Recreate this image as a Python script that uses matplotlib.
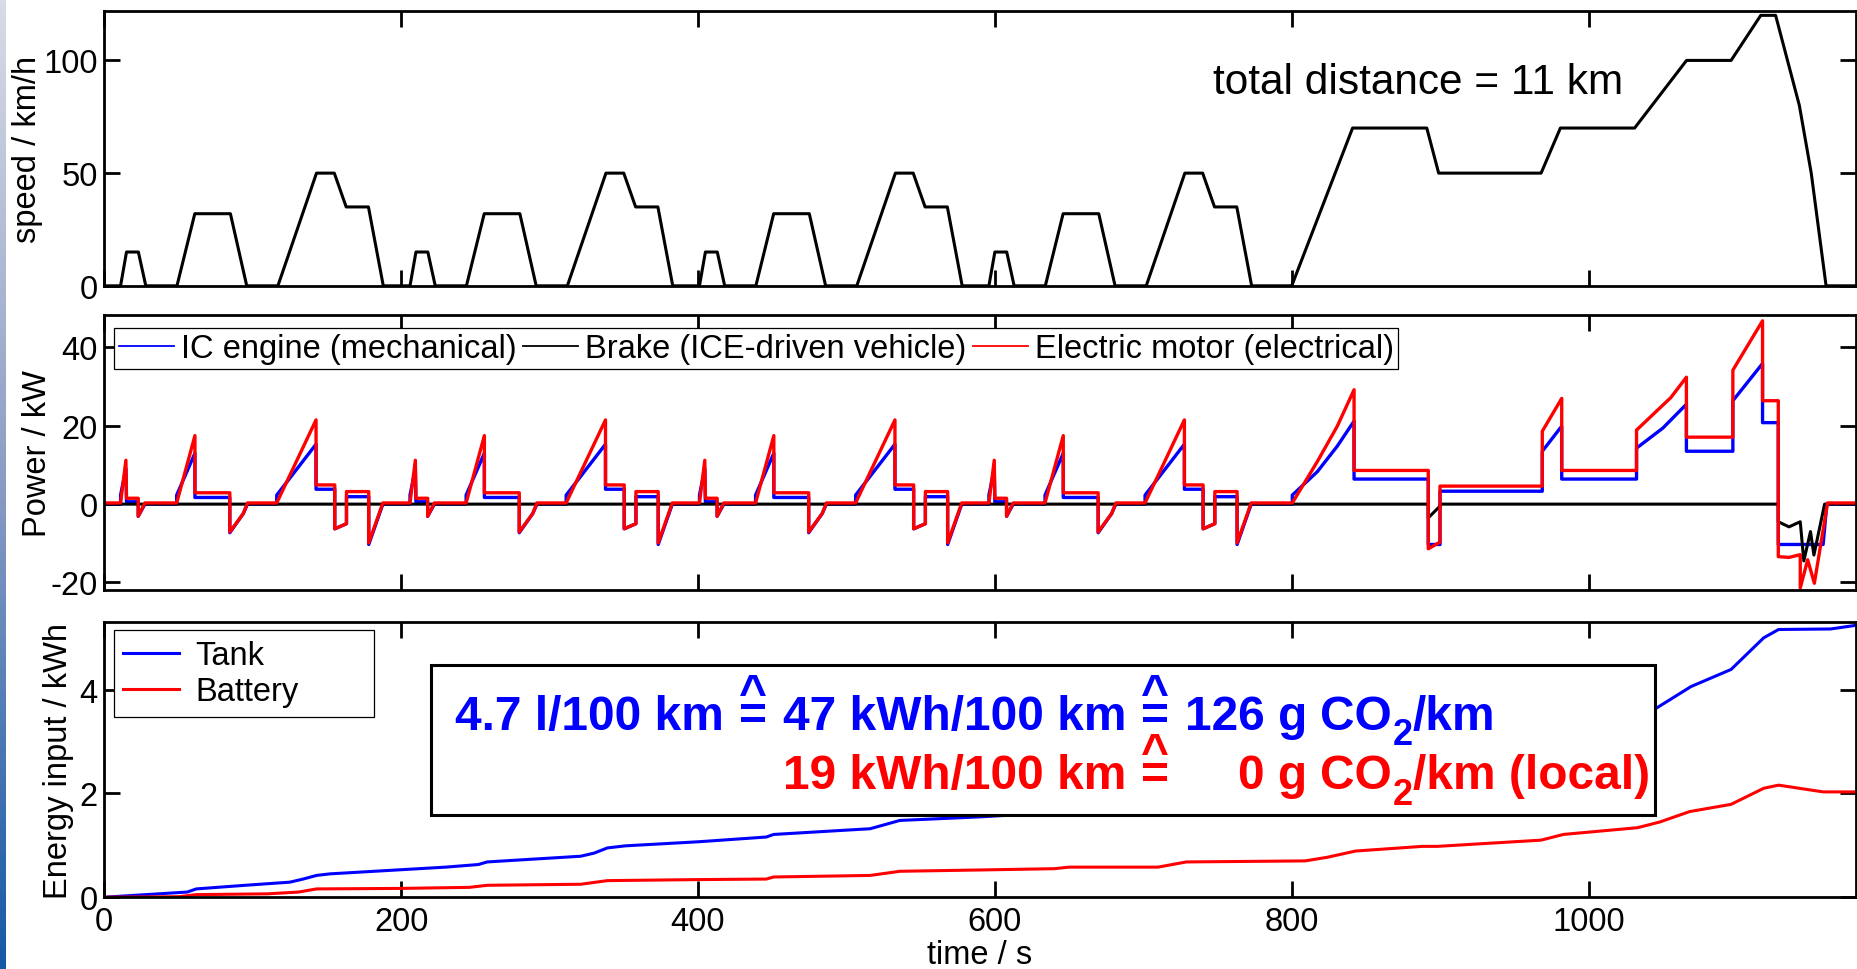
import numpy as np
import matplotlib
matplotlib.use('Agg')
import matplotlib.pyplot as plt
from matplotlib.colors import LinearSegmentedColormap
from matplotlib.lines import Line2D
from matplotlib.patches import Rectangle

plt.rcParams['font.family'] = ['Liberation Sans', 'DejaVu Sans']
plt.rcParams['font.size'] = 23.5
plt.rcParams['axes.linewidth'] = 2.0
plt.rcParams['axes.unicode_minus'] = False

BLUE = '#0000ff'
RED = '#ff0000'

# ---------------------------------------------------------------------------
# NEDC speed profile: one ECE-15 urban cycle (195 s, driven 4 times) + EUDC
ece_len = 195
ece_t = [0, 11, 15, 23, 28, 49, 61, 85, 96, 117, 143, 155, 163, 178, 188, 195]
ece_speed = [0, 0, 15, 15, 0, 0, 32, 32, 0, 0, 50, 50, 35, 35, 0, 0]

eudc_t = [780, 800, 841, 891, 899, 968, 981, 1031, 1066, 1096, 1116, 1126,
          1142, 1150, 1160, 1180]
eudc_speed = [0, 0, 70, 70, 50, 50, 70, 70, 100, 100, 120, 120, 80, 50, 0, 0]

# power (kW), per ECE cycle
ece_pt = [0, 11, 11, 14.6, 15, 22.9, 22.9, 27.4, 48.8, 48.8, 61.1, 61.1,
          84.6, 84.6, 93.7, 96.5, 116.2, 116.2, 142.7, 142.7, 155.3, 155.3,
          163.2, 163.2, 178.2, 178.2, 187.7, 195]
ece_ice = [0, 0, 2.3, 9.0, 0.6, 0.6, -3.1, 0, 0, 2.3, 13.0, 1.7,
           1.7, -7.3, -2.4, 0, 0, 2.3, 15.3, 3.8, 3.8, -6.3,
           -5.0, 1.9, 1.9, -10.3, 0, 0]
ece_em = [0.3, 0.3, 0.3, 11.2, 1.5, 1.5, -3.1, 0.3, 0.3, 0.3, 17.5, 2.9,
          2.9, -7.1, -2.4, 0.3, 0.3, 0.3, 21.5, 4.9, 4.9, -6.3,
          -5.0, 3.2, 3.2, -9.9, 0.3, 0.3]

# power (kW) during the EUDC part
eudc_ice_t = [780, 800.4, 800.4, 817.3, 830.7, 842, 842, 892, 892, 899.9,
              899.9, 968.8, 968.8, 981.9, 981.9, 1032.3, 1032.3, 1050, 1065.9,
              1065.9, 1097.2, 1097.2, 1117.2, 1117.2, 1127.8, 1127.8, 1158,
              1160.5, 1180]
eudc_ice = [0, 0, 2.3, 8.3, 14.8, 21.2, 6.4, 6.4, -10.3, -10.3,
            3.3, 3.3, 13.5, 19.9, 6.4, 6.4, 14.3, 19.4, 25.5,
            13.5, 13.5, 26.4, 35.9, 20.8, 20.8, -10.3, -10.3,
            0, 0]
eudc_em_t = [780, 800.4, 817.3, 830.7, 842, 842, 892, 892, 899.9, 899.9,
             968.8, 968.8, 981.9, 981.9, 1032.3, 1032.3, 1055.4, 1065.9,
             1065.9, 1097.2, 1097.2, 1117.2, 1117.2, 1127.8, 1127.8, 1135,
             1142.6, 1142.6, 1147.6, 1152.1, 1161, 1180]
eudc_em = [0.3, 0.3, 10.9, 19.9, 29.2, 8.6, 8.6, -11.4, -9.7, 4.6,
           4.6, 18.6, 27.0, 8.6, 8.6, 18.9, 27.2, 32.4,
           17.1, 17.1, 34.2, 46.8, 26.4, 26.4, -13.4, -13.6,
           -12.9, -21.4, -14.2, -20.2, 0.3, 0.3]
brake_t = [0, 892, 892, 899.9, 899.9, 1127.8, 1127.8, 1135, 1142.6, 1145,
           1149.5, 1151.8, 1159, 1180]
brake = [0, 0, -3.5, -0.5, 0, 0, -4.5, -5.8, -4.5, -14.5,
         -7.0, -13.0, 0, 0]

# cumulative energy input (kWh)
tank_t = [0, 56, 62, 95, 125, 134, 143, 152, 200, 230, 252, 258, 321, 330,
          339, 351, 401, 446, 451, 516, 536, 591, 650, 660, 720, 735, 780,
          800, 841, 891, 968, 981, 1032, 1046, 1069, 1096, 1118, 1128, 1163,
          1180]
tank_kwh = [0, 0.10, 0.16, 0.23, 0.29, 0.35, 0.42, 0.45, 0.53, 0.58, 0.63,
            0.68, 0.79, 0.85, 0.95, 0.99, 1.07, 1.16, 1.21, 1.32, 1.48, 1.55,
            1.65, 1.72, 1.80, 1.95, 2.05, 2.07, 2.55, 2.85, 3.20, 3.35, 3.55,
            3.65, 4.06, 4.39, 5.00, 5.16, 5.17, 5.24]
bat_t = [0, 50, 62, 110, 131, 143, 200, 246, 258, 321, 339, 401, 446, 451,
         516, 536, 600, 640, 650, 710, 729, 809, 824, 843, 888, 898, 968, 983,
         1033, 1048, 1068, 1096, 1118, 1128, 1158, 1180]
bat_kwh = [0, 0.01, 0.05, 0.065, 0.10, 0.16, 0.17, 0.19, 0.23, 0.25, 0.32,
           0.34, 0.35, 0.39, 0.42, 0.50, 0.53, 0.55, 0.58, 0.58, 0.68, 0.70,
           0.77, 0.89, 0.98, 0.98, 1.10, 1.21, 1.34, 1.45, 1.65, 1.79, 2.10,
           2.16, 2.03, 2.03]

time_ticks = [0, 200, 400, 600, 800, 1000]


def full_cycle(ece_x, ece_y, eudc_x, eudc_y):
    xs = [np.asarray(ece_x, float) + ece_len * k for k in range(4)]
    ys = [np.asarray(ece_y, float)] * 4
    return np.concatenate(xs + [eudc_x]), np.concatenate(ys + [eudc_y])


t_speed, speed = full_cycle(ece_t, ece_speed, eudc_t, eudc_speed)
t_ice, p_ice = full_cycle(ece_pt, ece_ice, eudc_ice_t, eudc_ice)
t_em, p_em = full_cycle(ece_pt, ece_em, eudc_em_t, eudc_em)

fig = plt.figure(figsize=(18.58, 9.70), dpi=100)
left, width, height = 0.0561, 0.9427, 0.2835
ax1 = fig.add_axes([left, 0.7043, width, height])
ax2 = fig.add_axes([left, 0.3904, width, height])
ax3 = fig.add_axes([left, 0.0740, width, height])

# slide background strip on the left edge
strip = fig.add_axes([0, 0, 6 / 1858, 1], zorder=-1)
cmap = LinearSegmentedColormap.from_list('strip', ['#d9dce6', '#8a9cc4', '#1459a6'])
strip.imshow(np.linspace(0, 1, 256)[:, None], aspect='auto', cmap=cmap)
strip.axis('off')

for ax in (ax1, ax2, ax3):
    ax.set_xlim(0, 1180)
    ax.set_xticks(time_ticks)
    ax.tick_params(direction='in', top=True, right=True, length=11.5,
                   width=2, pad=6)
    ax.tick_params(axis='y', pad=4.5)

# --- speed
ax1.plot(t_speed, speed, color='black', lw=2.2)
ax1.set_ylim(0, 122)
ax1.set_yticks([0, 50, 100])
ax1.tick_params(labelbottom=False)
ax1.set_ylabel('speed / km/h', labelpad=0)
ax1.text(747, 85.7, 'total distance = 11 km', fontsize=30.5, va='baseline')

# --- power
ax2.plot(t_ice, p_ice, color=BLUE, lw=2.4)
ax2.plot(brake_t, brake, color='black', lw=2.2)
ax2.plot(t_em, p_em, color=RED, lw=2.4)
ax2.set_ylim(-22, 48.2)
ax2.set_yticks([-20, 0, 20, 40])
ax2.tick_params(labelbottom=False)
ax2.set_ylabel('Power / kW', labelpad=-1.5)
handles = [Line2D([], [], color=c, lw=1.3) for c in (BLUE, 'black', RED)]
leg = ax2.legend(handles, ['IC engine (mechanical)', 'Brake (ICE-driven vehicle)',
                           'Electric motor (electrical)'],
                 ncol=3, loc='upper left', bbox_to_anchor=(0.0054, 0.953),
                 borderaxespad=0, handlelength=1.7, handletextpad=0.2,
                 columnspacing=0.2, fancybox=False, framealpha=1,
                 edgecolor='black', borderpad=0.15)
leg.get_frame().set_linewidth(0.9)

# --- energy
ax3.plot(tank_t, tank_kwh, color=BLUE, lw=2.2, label='Tank')
ax3.plot(bat_t, bat_kwh, color=RED, lw=2.2, label='Battery')
ax3.set_ylim(0, 5.3)
ax3.set_yticks([0, 2, 4])
ax3.set_xlabel('time / s', labelpad=2)
ax3.set_ylabel('Energy input / kWh', labelpad=4)
leg3 = ax3.legend(loc='upper left', bbox_to_anchor=(0.0054, 0.0, 0.1488, 0.97),
                  mode='expand', borderaxespad=0, handlelength=1.7,
                  handletextpad=0.5, labelspacing=0.15, fancybox=False,
                  framealpha=1, edgecolor='black', borderpad=0.3)
leg3.get_frame().set_linewidth(0.9)

ax3.add_patch(Rectangle((220.4, 1.58), 824.3, 2.9, facecolor='white',
                        edgecolor='black', lw=2.2, zorder=5))

# consumption statement, built from pieces so that the "hat-equals" signs
# and the CO2 subscripts can be drawn like in the original slide
box_kw = dict(fontsize=34.5, fontweight='bold', zorder=6, annotation_clip=False)
gap = 11.0        # points between words and the hat-equals sign
line_step = 42.5  # points between the two lines
hat_lift = 15.5


def chain(prev, s, color, dx=0.0, dy=0.0, ycoords=None, **kw):
    kws = dict(box_kw)
    kws.update(kw)
    return ax3.annotate(s, xy=(1, 0), xycoords=(prev, ycoords or prev),
                        xytext=(dx, dy), textcoords='offset points',
                        ha='left', va='bottom', color=color, **kws)


def add_hat(eq, color):
    ax3.annotate('^', xy=(0.5, 0), xycoords=eq, xytext=(0, hat_lift),
                 textcoords='offset points', ha='center', va='bottom',
                 color=color, **box_kw)


def hat_equal(prev, color, dx=gap):
    eq = chain(prev, '=', color, dx=dx)
    add_hat(eq, color)
    return eq


def co2(prev, color, dx):
    co = chain(prev, 'CO', color, dx=dx)
    two = chain(co, '2', color, dx=0.5, dy=-10, fontsize=26)
    return co, two


b1 = ax3.text(236.4, 3.25, '4.7 l/100 km', color=BLUE, va='baseline',
              fontsize=34.5, fontweight='bold', zorder=6)
b_eq1 = hat_equal(b1, BLUE)
b2 = chain(b_eq1, '47 kWh/100 km', BLUE, dx=gap)
b_eq2 = hat_equal(b2, BLUE)
b3 = chain(b_eq2, '126 g', BLUE, dx=gap)
b_co, b_two = co2(b3, BLUE, dx=9.5)
chain(b_two, '/km', BLUE, ycoords=b_co)

# red line: hat-equals and "g CO2" sit right under the blue ones
r_eq = ax3.annotate('=', xy=(0, 0), xycoords=b_eq2, xytext=(0, -line_step),
                    textcoords='offset points', ha='left', va='bottom',
                    color=RED, **box_kw)
add_hat(r_eq, RED)
ax3.annotate('19 kWh/100 km', xy=(0, 0), xycoords=r_eq, xytext=(-gap, 0),
             textcoords='offset points', ha='right', va='bottom',
             color=RED, **box_kw)
r3 = ax3.annotate('0 g', xy=(1, 0), xycoords=(b3, r_eq), xytext=(0, 0),
                  textcoords='offset points', ha='right', va='bottom',
                  color=RED, **box_kw)
r_co, r_two = co2(r3, RED, dx=9.5)
chain(r_two, '/km (local)', RED, ycoords=r_co)

fig.savefig('out.png', dpi=100)
